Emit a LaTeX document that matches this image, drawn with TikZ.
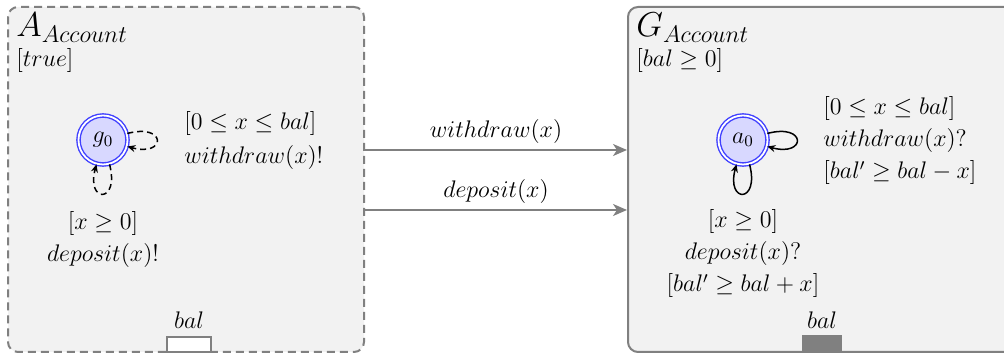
\documentclass[tikz,border=0pt,12pt]{standalone}
\usetikzlibrary{arrows.meta,fit}
\definecolor{boxgray}{RGB}{128,128,128}
\definecolor{boxfill}{RGB}{242,242,242}
\definecolor{stblue}{RGB}{64,64,255}
\definecolor{stfill}{RGB}{216,216,255}
\begin{document}
\begin{tikzpicture}[x=0.5pt,y=-0.5pt,
  comp/.style={inner sep=0pt, draw=boxgray, line width=1pt, fill=boxfill, rounded corners=5pt},
  compdash/.style={comp, dash pattern=on 4pt off 2.5pt},
  state/.style={circle, draw=stblue, double, double distance=0.9pt, line width=0.7pt, fill=stfill, minimum size=24.5pt, inner sep=0pt},
  selfloop/.style={-{Stealth[length=4pt,width=3.5pt]}, line width=0.75pt, looseness=8, min distance=19pt},
  dashloop/.style={selfloop, dash pattern=on 3pt off 2pt},
  lbl/.style={inner sep=0pt},
  conn/.style={draw=boxgray, line width=1pt, -{Stealth[length=7pt,width=6pt,inset=2pt]}},
  portempty/.style={draw=boxgray, line width=1pt, fill=white, minimum width=22pt, minimum height=7.5pt, inner sep=0pt},
  portfull/.style={draw=boxgray, line width=1pt, fill=boxgray, minimum width=19pt, minimum height=8pt, inner sep=0pt}]
\clip (0,0) rectangle (1004,356);
% components
\node[compdash, fit={(8,7) (364,352)}] (A) {};
\node[comp, fit={(628,7) (1030,352)}] (G) {};
% titles
\node[lbl, anchor=base west, font=\Large] (tA) at (16,37) {$A_{Account}$};
\node[lbl, anchor=base west] (gA) at (16,67) {$[true]$};
\node[lbl, anchor=base west, font=\Large] (tG) at (636,37) {$G_{Account}$};
\node[lbl, anchor=base west] (gG) at (636,67) {$[bal \geq 0]$};
% states
\node[state] (g0) at (103,140) {$g_0$};
\node[state] (a0) at (743,140) {$a_0$};
\draw[dashloop] (g0) to[out=15,in=-15] (g0);
\draw[dashloop] (g0) to[out=-75,in=-105] (g0);
\draw[selfloop] (a0) to[out=15,in=-15] (a0);
\draw[selfloop] (a0) to[out=-75,in=-105] (a0);
% transition labels
\node[lbl, anchor=west, align=left] (lw) at (184,141) {$[0 \leq x \leq bal]$\\[2.5pt]$withdraw(x)!$};
\node[lbl, align=center] (ld) at (103,240) {$[x \geq 0]$\\[1.5pt]$deposit(x)!$};
\node[lbl, anchor=west, align=left] (rw) at (823,141) {$[0 \leq x \leq bal]$\\[1.5pt]$withdraw(x)?$\\[1.5pt]$[bal' \geq bal - x]$};
\node[lbl, align=center] (rd) at (743,254) {$[x \geq 0]$\\[1.5pt]$deposit(x)?$\\[1.5pt]$[bal' \geq bal + x]$};
% ports
\node[portempty] (pA) at (189,344.5) {};
\node[lbl, anchor=base] (pAl) at (189,329) {$bal$};
\node[portfull] (pG) at (822,344) {};
\node[lbl, anchor=base] (pGl) at (822,329) {$bal$};
% connectors
\draw[conn] (A.east |- 0,150) -- node[lbl, above=2.5pt] (cw) {$withdraw(x)$} (G.west |- 0,150);
\draw[conn] (A.east |- 0,210) -- node[lbl, above=2.5pt] (cd) {$deposit(x)$} (G.west |- 0,210);
\end{tikzpicture}
\end{document}
